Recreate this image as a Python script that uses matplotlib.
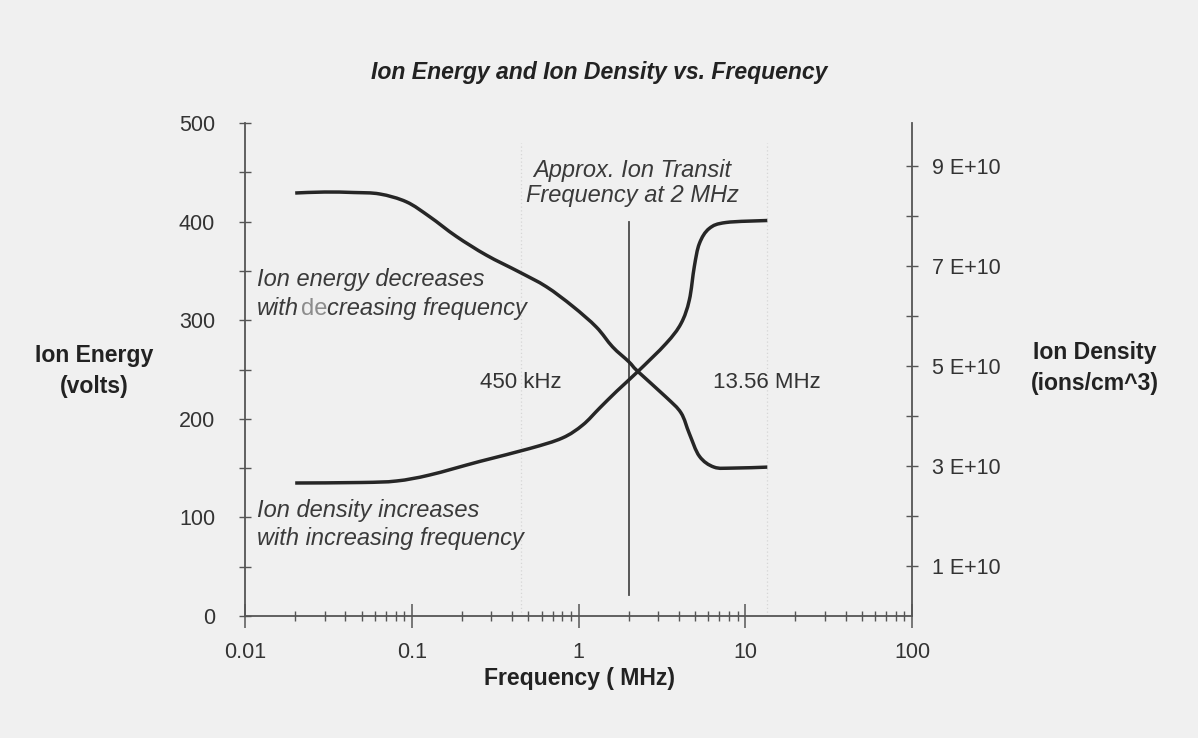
import matplotlib
matplotlib.use("Agg")
import numpy as np
import matplotlib.pyplot as plt
from matplotlib.path import Path
from matplotlib.patches import PathPatch
from matplotlib.ticker import FixedLocator, FuncFormatter, LogLocator, NullFormatter

plt.rcParams['font.family'] = ['Liberation Sans', 'DejaVu Sans']

# ---- data ----
freq_energy = [0.02, 0.03, 0.045, 0.0643, 0.093, 0.128, 0.185, 0.28, 0.44, 0.641,
               0.925, 1.28, 1.6, 2.0, 2.27, 3.35, 4.12, 4.62, 5.31, 6.5, 8.4, 13.56]
energy_volts = [429, 430, 429.5, 428, 420, 405, 385, 366, 349, 334,
                314, 293, 273, 258, 248, 222, 206, 185, 162, 151, 150, 151]

freq_density = [0.02, 0.05, 0.081, 0.128, 0.255, 0.51, 0.80, 1.06, 1.34, 1.7,
                2.27, 3.35, 4.12, 4.62, 4.95, 5.31, 6.08, 7.66, 13.56]
density_e10 = [2.66, 2.67, 2.70, 2.82, 3.09, 3.35, 3.56, 3.82, 4.16, 4.5,
               4.89, 5.45, 5.85, 6.32, 6.99, 7.45, 7.75, 7.87, 7.91]

x_tick_values = [0.01, 0.1, 1, 10, 100]
x_tick_labels = ['0.01', '0.1', '1', '10', '100']
left_major = [0, 100, 200, 300, 400, 500]
left_minor = [50, 150, 250, 350, 450]
right_major_e10 = [1, 3, 5, 7, 9]
right_minor_e10 = [2, 4, 6, 8]

transit_freq = 2.0
transit_span = [21, 400]
band_freqs = [0.45, 13.56]

title = 'Ion Energy and Ion Density vs. Frequency'

BG = '#f0f0f0'
CURVE = '#262626'
AXC = '#555555'
TXT = '#333333'


def smooth_path(xs, ys):
    """Excel-style smoothed line: Catmull-Rom through the points (log-x space)."""
    lx = np.log10(np.asarray(xs, float))
    y = np.asarray(ys, float)
    n = len(lx)
    verts = [(lx[0], y[0])]
    codes = [Path.MOVETO]
    for i in range(n - 1):
        p0 = (lx[max(i - 1, 0)], y[max(i - 1, 0)])
        p1 = (lx[i], y[i])
        p2 = (lx[i + 1], y[i + 1])
        p3 = (lx[min(i + 2, n - 1)], y[min(i + 2, n - 1)])
        c1 = (p1[0] + (p2[0] - p0[0]) / 6, p1[1] + (p2[1] - p0[1]) / 6)
        c2 = (p2[0] - (p3[0] - p1[0]) / 6, p2[1] - (p3[1] - p1[1]) / 6)
        verts += [c1, c2, p2]
        codes += [Path.CURVE4] * 3
    verts = [(10 ** vx, vy) for vx, vy in verts]
    return Path(verts, codes)


fig = plt.figure(figsize=(11.98, 7.38), dpi=100, facecolor=BG)
ax = fig.add_axes([245/1198, 1-616/738, (912-245)/1198, (616-123)/738])
ax.set_facecolor(BG)
ax.set_xscale('log')
ax.set_xlim(0.01, 100)
ax.set_ylim(0, 500)

ax2 = ax.twinx()
ax2.set_ylim(0, 9.86e10)

# spines
for s in ['top', 'right']:
    ax.spines[s].set_visible(False)
for s in ['top', 'left', 'bottom']:
    ax2.spines[s].set_visible(False)
for sp in [ax.spines['left'], ax.spines['bottom'], ax2.spines['right']]:
    sp.set_color(AXC)
    sp.set_linewidth(1.3)

# x ticks
ax.xaxis.set_major_locator(FixedLocator(x_tick_values))
ax.xaxis.set_major_formatter(FuncFormatter(
    lambda v, p: x_tick_labels[x_tick_values.index(v)] if v in x_tick_values else ''))
ax.xaxis.set_minor_locator(LogLocator(base=10, subs=range(2, 10)))
ax.xaxis.set_minor_formatter(NullFormatter())
ax.tick_params(axis='x', which='major', direction='inout', length=17, width=1.1,
               color=AXC, labelsize=15.5, labelcolor=TXT, pad=10)
ax.tick_params(axis='x', which='minor', direction='inout', length=7.5, width=1.0, color=AXC)

# left y ticks
ax.yaxis.set_major_locator(FixedLocator(left_major))
ax.yaxis.set_minor_locator(FixedLocator(left_minor))
ax.tick_params(axis='y', which='both', direction='inout', length=9, width=1.0,
               color=AXC, labelsize=15.5, labelcolor=TXT, pad=17)

# right y ticks
ax2.yaxis.set_major_locator(FixedLocator([v * 1e10 for v in right_major_e10]))
ax2.yaxis.set_minor_locator(FixedLocator([v * 1e10 for v in right_minor_e10]))
ax2.yaxis.set_major_formatter(FuncFormatter(lambda v, p: f'{v/1e10:.0f} E+10'))
ax2.tick_params(axis='y', which='both', direction='inout', length=9, width=1.0,
                color=AXC, labelsize=15.5, labelcolor=TXT, pad=10)

# faint dotted band lines
for f in band_freqs:
    ax.axvline(f, ymin=0, ymax=0.96, color='#d6d6d6', lw=0.9, ls=(0, (1, 2)), zorder=0)

# transit line
ax.plot([transit_freq, transit_freq], transit_span, color='#4a4a4a', lw=1.3, zorder=2)

# curves (smoothed lines through the read points)
ax.add_patch(PathPatch(smooth_path(freq_energy, energy_volts), fill=False,
                       edgecolor=CURVE, lw=2.5, capstyle='butt', zorder=3))
ax2.add_patch(PathPatch(smooth_path(freq_density, [v * 1e10 for v in density_e10]),
                        fill=False, edgecolor=CURVE, lw=2.5, capstyle='butt', zorder=3))

# annotations
FS = 17
ital = dict(style='italic', color='#3a3a3a', fontsize=FS)
ax.text(0.0118, 341, 'Ion energy decreases', ha='left', va='center', **ital)
t1 = ax.text(0.0118, 305, 'with', ha='left', va='baseline', **ital)
t2 = ax.annotate('de', xy=(1, 0), xycoords=t1, xytext=(1.5, 0), textcoords='offset points',
                 ha='left', va='bottom', color='#8c8c8c', fontsize=FS, style='normal')
ax.annotate('creasing frequency', xy=(1, 0), xycoords=t2, ha='left', va='bottom', **ital)

ax.text(0.0118, 107.5, 'Ion density increases', ha='left', va='center', **ital)
ax.text(0.0118, 79, 'with increasing frequency', ha='left', va='center', **ital)

ax.text(2.1, 452, 'Approx. Ion Transit', ha='center', va='center', **ital)
ax.text(2.1, 426, 'Frequency at 2 MHz', ha='center', va='center', **ital)

ax.text(band_freqs[0], 237, '450 kHz', ha='center', va='center', color='#333333', fontsize=16)
ax.text(band_freqs[1], 237, '13.56 MHz', ha='center', va='center', color='#333333', fontsize=16)

# title & axis labels
fig.text(599/1198, 1-72/738, title, ha='center', va='center', fontsize=16.6,
         fontweight='bold', style='italic', color='#222222')
fig.text(94/1198, 1-371/738, 'Ion Energy\n(volts)', ha='center', va='center',
         multialignment='center', fontsize=16.6, fontweight='bold', color='#222222',
         linespacing=1.45)
fig.text(1095/1198, 1-368/738, 'Ion Density\n(ions/cm^3)', ha='center', va='center',
         multialignment='center', fontsize=16.6, fontweight='bold', color='#222222',
         linespacing=1.45)
fig.text(580/1198, 1-678/738, 'Frequency ( MHz)', ha='center', va='center',
         fontsize=16.6, fontweight='bold', color='#222222')

fig.savefig('out.png', dpi=100, facecolor=BG)
